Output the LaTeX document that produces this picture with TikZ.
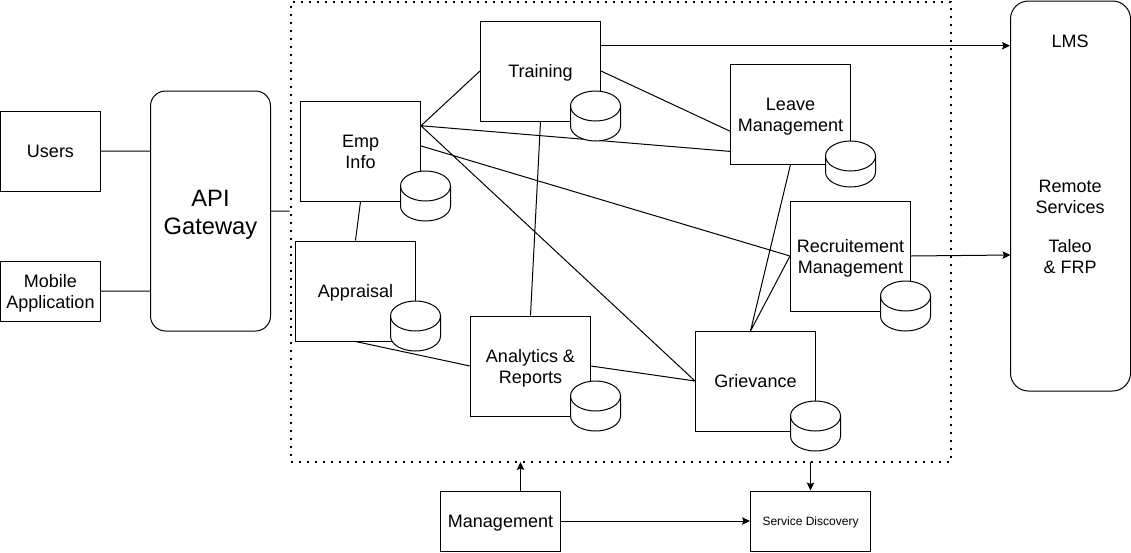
\documentclass[tikz,border=0pt]{standalone}
\usepackage{fontspec}
\setmainfont{Liberation Sans}
\usetikzlibrary{positioning,calc,arrows.meta}
\newcommand{\capstrut}{\rule[-.21em]{0pt}{1.14em}}
\newcommand{\toprow}{\rule{0pt}{1.02em}}

\begin{document}
\begin{tikzpicture}[
      x=1pt,y=-1pt,
      line width=1pt,
      >={Stealth[length=8pt,width=7.5pt,inset=1.5pt]},
      label text/.style={align=center,inner sep=0pt,execute at begin node=\capstrut,execute at end node=\capstrut},
      box/.style={draw,fill=white,label text,font=\fontsize{18}{20.7}\selectfont},
      service/.style={box,minimum width=120pt,minimum height=100pt},
      pics/db/.style={code={
        \draw[fill=white] (-25,-#1) -- (-25,#1) arc[start angle=180,end angle=0,x radius=25,y radius=15]
          -- (25,-#1) arc[start angle=0,end angle=-180,x radius=25,y radius=15] -- cycle;
        \draw (-25,-#1) arc[start angle=180,end angle=0,x radius=25,y radius=15];
      }},
      pics/db/.default=10,
      ]
      \useasboundingbox (0,0) rectangle (1131,552);
      % clients and gateway
      \node[box,minimum width=100pt,minimum height=80pt] (users) at (50.5,151) {Users};
      \node[box,minimum width=100pt,minimum height=60pt] (mobile) at (50.5,291) {\toprow Mobile\\Application};
      \node[box,rounded corners=15pt,minimum width=120pt,minimum height=240pt,font=\fontsize{23.7}{28}\selectfont] (gateway) at (210.5,211) {\toprow API\\Gateway};
      % dotted frame round the services
      \node[draw,line width=2pt,dash pattern=on 2pt off 6pt,minimum width=660pt,minimum height=460pt,inner sep=0pt] (frame) at (620.5,231.5) {};
      % services
      \node[service] (empinfo) at (360.5,151) {\toprow Emp\\Info};
      \node[service] (training) at (540.5,71) {Training};
      \node[service] (leave) at (790.5,114) {\toprow Leave\\Management};
      \node[service,minimum height=110pt] (recruit) at (850.5,256) {\toprow Recruitement\\Management};
      \node[service] (appraisal) at (355.5,291) {Appraisal};
      \node[service] (analytics) at (530.5,366) {\toprow Analytics \&\\Reports};
      \node[service] (grievance) at (755.5,381) {Grievance};
      % right side and bottom
      \node[box,rounded corners=18pt,minimum width=120pt,minimum height=390pt] (remote) at (1070.5,196) {};
      \node[label text,font=\fontsize{18}{20.7}\selectfont] (remotetext) at (1070,156) {LMS\\[124pt]Remote\\Services\\[18.7pt]Taleo\\\& FRP};
      \node[box,minimum width=120pt,minimum height=60pt] (management) at (500.5,521) {Management};
      \node[box,minimum width=120pt,minimum height=60pt,font=\fontsize{12}{14}\selectfont] (discovery) at (810.5,521) {Service Discovery};
      % ports on box sides
      \coordinate (empupper) at ($(empinfo.north east)!0.25!(empinfo.south east)$);
      \coordinate (emplower) at ($(empinfo.north east)!0.45!(empinfo.south east)$);
      \coordinate (leaveupper) at ($(leave.north west)!0.67!(leave.south west)$);
      \coordinate (leavelower) at ($(leave.north west)!0.87!(leave.south west)$);
      \coordinate (trainingout) at ($(training.north east)!0.25!(training.south east)$);
      \coordinate (lmsin) at (trainingout -| remote.west);
      \coordinate (remotein) at (1010.5,255);
      \coordinate (grievancetop) at (750.5,331);
      \coordinate (mgmtout) at (520.5,491);
      \coordinate (framein) at (520.5,462);
      \coordinate (frameout) at (810.5,462);
      % connectors
      \path[draw]
      (users.east) -- (users.east -| gateway.west)
      (mobile.east) -- (mobile.east -| gateway.west)
      (gateway.east) -- (frame.west |- gateway.east)
      (empupper) -- (training.west)
      (empupper) -- (leavelower)
      (empupper) -- (grievance.west)
      (emplower) -- (recruit.west)
      (empinfo.south) -- (appraisal.north)
      (training.east) -- (leaveupper)
      (training.south) -- (analytics.north)
      (leave.south) -- (grievancetop)
      (recruit.west) -- (grievancetop)
      (appraisal.south) -- (analytics.west)
      (analytics.east) -- (grievance.west);
      \draw[->] (trainingout) -- (lmsin);
      \draw[->] (recruit.east) -- (remotein);
      \draw[->] (management.east) -- (discovery.west);
      \draw[->] (mgmtout) -- (framein);
      \draw[->] (frameout) -- (discovery.north);
      % databases
      \pic (empdb) at (425.5,196) {db};
      \pic (trainingdb) at (595.5,116) {db};
      \pic (leavedb) at (850.5,164) {db=8};
      \pic (recruitdb) at (905.5,306) {db};
      \pic (appraisaldb) at (415.5,326) {db};
      \pic (analyticsdb) at (595.5,406) {db};
      \pic (grievancedb) at (815.5,426) {db};
    \end{tikzpicture}
\end{document}
